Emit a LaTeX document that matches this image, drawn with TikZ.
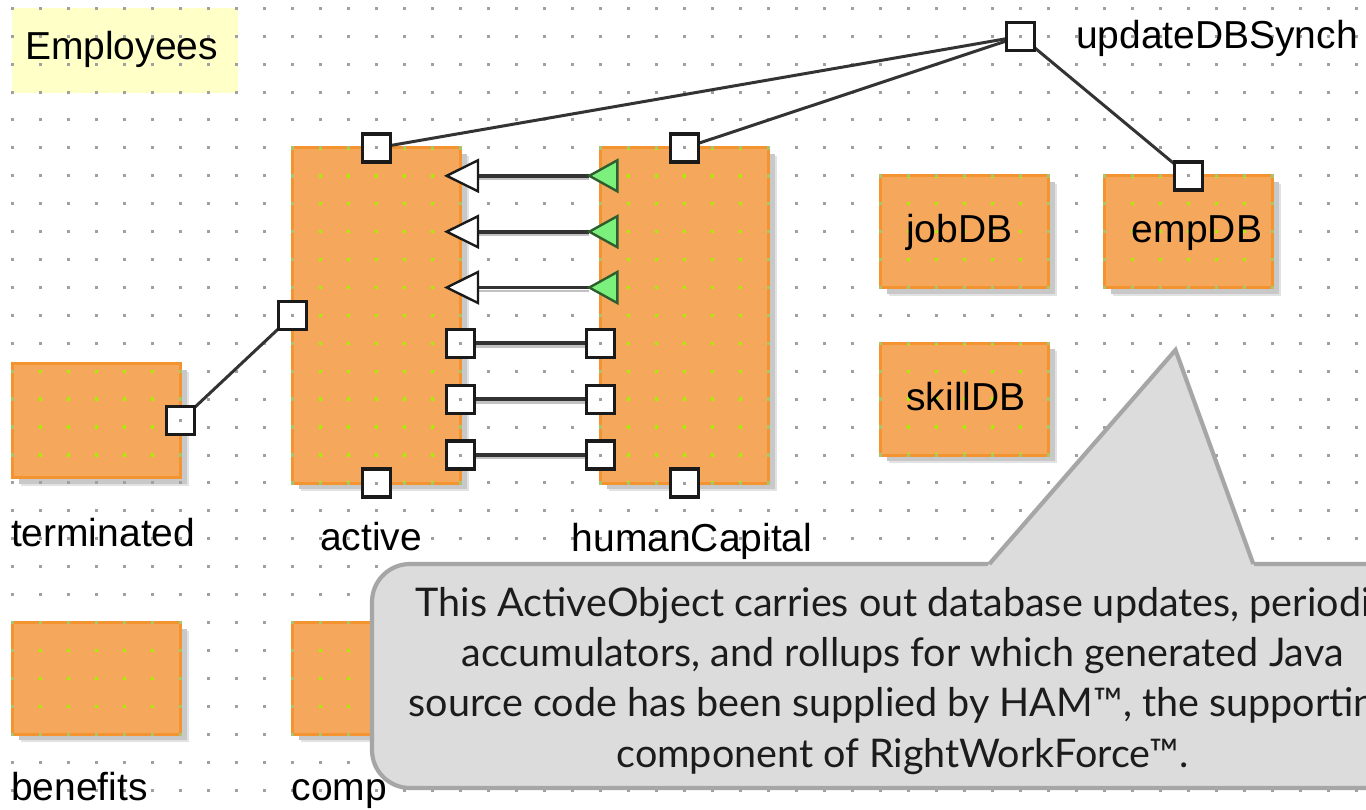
\documentclass[tikz,border=0pt]{standalone}
\usepackage{fontspec}
\setmainfont{Liberation Sans}
\newfontfamily\notefont{Lato}
\pgfdeclarelayer{back}
\pgfdeclarelayer{wires}
\pgfdeclarelayer{front}
\pgfsetlayers{back,wires,main,front}

\definecolor{boxfill}{HTML}{F5A85C}
\definecolor{boxline}{HTML}{F39431}
\definecolor{shadowA}{HTML}{C8C8C8}
\definecolor{shadowB}{HTML}{E2E2E2}
\definecolor{dotgray}{HTML}{A0A0A0}
\definecolor{dotlime}{HTML}{A4F000}
\definecolor{dotedge}{HTML}{A8C46C}
\definecolor{notefill}{HTML}{DCDCDC}
\definecolor{noteline}{HTML}{A6A6A6}
\definecolor{notetextcol}{HTML}{1C1C1C}
\definecolor{labelfill}{HTML}{FFFFC8}
\definecolor{wirecol}{HTML}{333333}
\definecolor{wireshadecol}{HTML}{C2C2C2}
\definecolor{outfill}{HTML}{7CF07C}
\definecolor{outedge}{HTML}{2E5E2E}
\definecolor{portline}{HTML}{1A1A1A}

\tikzset{
  objbox/.style={fill=boxfill, draw=boxline, line width=3, inner sep=0, outer sep=0},
  port/.style={draw=portline, fill=white, line width=3.4, minimum size=28, inner sep=0, outer sep=0,
    path picture={\fill[dotgray] ([shift={(-1.5,-1.5)}]path picture bounding box.center)
      rectangle ([shift={(1.5,1.5)}]path picture bounding box.center);}},
  wire/.style={draw=wirecol, line width=3},
  flatwire/.style={draw=wirecol, line width=3.8},
  wireshade/.style={draw=wireshadecol, line width=2.4},
  intri/.style={fill=white, draw=portline, line width=2.4, line join=miter},
  outtri/.style={fill=outfill, draw=outedge, line width=2.4, line join=miter},
  lbl/.style={font=\fontsize{39}{46}\selectfont, text=black, inner sep=0, outer sep=0},
  notetext/.style={font=\notefont\fontsize{39.5}{46}\selectfont, text=notetextcol, inner sep=0, anchor=base},
  notebody/.style={fill=notefill, draw=noteline, line width=4.2, rounded corners=38},
}

\begin{document}
\begin{tikzpicture}[x=1pt, y=-1pt]
\useasboundingbox (0,0) rectangle (1366,809);

\begin{pgfonlayer}{back}
  \fill[white] (0,0) rectangle (1366,809);
  % title tag of the diagram
  \fill[labelfill] (11.7,8.3) rectangle (238,93);
  % drop shadows of the embedded objects
  \foreach \nm/\xa/\ya/\xb/\yb/\ia/\ib/\ja/\jb in {
      terminated/12.7/363.5/180.7/477.5/0/6/12/17,
      active/292.7/147.9/460.7/483.0/10/16/5/17,
      humanCapital/600.7/147.9/768.7/483.0/21/27/5/17,
      jobDB/880.7/175.8/1048.7/287.5/31/37/6/10,
      empDB/1104.7/175.8/1272.7/287.5/39/45/6/10,
      skillDB/880.7/343.3/1048.7/455.0/31/37/12/16,
      benefits/12.7/622.5/180.7/734.2/0/6/22/26,
      comp/292.7/622.5/460.7/734.2/10/16/22/26}{
    \fill[shadowB] (\xa+8,\ya+8) rectangle (\xb+8,\yb+8);
    \fill[shadowA] (\xa+6,\ya+6) rectangle (\xb+6,\yb+6);
  }
  % editor grid
  \foreach \i in {0,...,48}
    \foreach \j in {0,...,28}
      \fill[dotgray] (12.7+28*\i-1.5, 8.3+27.92*\j-1.5) rectangle ++(3,3);
  % embedded objects
  \foreach \nm/\xa/\ya/\xb/\yb/\ia/\ib/\ja/\jb in {
      terminated/12.7/363.5/180.7/477.5/0/6/12/17,
      active/292.7/147.9/460.7/483.0/10/16/5/17,
      humanCapital/600.7/147.9/768.7/483.0/21/27/5/17,
      jobDB/880.7/175.8/1048.7/287.5/31/37/6/10,
      empDB/1104.7/175.8/1272.7/287.5/39/45/6/10,
      skillDB/880.7/343.3/1048.7/455.0/31/37/12/16,
      benefits/12.7/622.5/180.7/734.2/0/6/22/26,
      comp/292.7/622.5/460.7/734.2/10/16/22/26}{
    \node[objbox, anchor=north west, minimum width=\xb-\xa, minimum height=\yb-\ya] (\nm) at (\xa,\ya) {};
    \begin{scope}
      \clip (\xa-1.6,\ya-1.6) rectangle (\xb+1.6,\yb+1.6);
      \foreach \i in {\ia,...,\ib}
        \foreach \j in {\ja,...,\jb}
          \fill[dotedge] (12.7+28*\i-1.7, 8.3+27.92*\j-1.7) rectangle ++(3.4,3.4);
    \end{scope}
    \begin{scope}
      \clip (\xa+1.6,\ya+1.6) rectangle (\xb-1.6,\yb-1.6);
      \foreach \i in {\ia,...,\ib}
        \foreach \j in {\ja,...,\jb}
          \fill[dotlime] (12.7+28*\i-1.7, 8.3+27.92*\j-1.7) rectangle ++(3.4,3.4);
    \end{scope}
  }
\end{pgfonlayer}

% ports
\node[port] (aTop)  at (376.7,147.9) {};
\node[port] (aLeft) at (292.7,315.4) {};
\node[port] (aBot)  at (376.7,483.0) {};
\node[port] (aR1)   at (460.7,343.3) {};
\node[port] (aR2)   at (460.7,399.2) {};
\node[port] (aR3)   at (460.7,455.0) {};
\node[port] (hTop)  at (684.7,147.9) {};
\node[port] (hBot)  at (684.7,483.0) {};
\node[port] (hL1)   at (600.7,343.3) {};
\node[port] (hL2)   at (600.7,399.2) {};
\node[port] (hL3)   at (600.7,455.0) {};
\node[port] (tPort) at (180.7,420.5) {};
\node[port] (ePort) at (1188.7,175.8) {};
\node[port] (uPort) at (1020.7,36.2) {};

\begin{pgfonlayer}{wires}
  \draw[wire] (aTop.center) -- (uPort.center);
  \draw[wire] (hTop.center) -- (uPort.center);
  \draw[wire] (uPort.center) -- (ePort.center);
  \draw[wire] (aLeft.center) -- (tPort.center);
  \foreach \k in {1,2,3}{
    \draw[wireshade] ([yshift=-3.2pt]aR\k.center) -- ([yshift=-3.2pt]hL\k.center);
    \draw[flatwire] (aR\k.center) -- (hL\k.center);
  }
  % message ports: output of humanCapital to input of active
  \foreach \k/\y in {1/175.8,2/231.7,3/287.5}{
    \coordinate (inA\k) at (478,\y);
    \coordinate (outH\k) at (589.3,\y);
    \draw[wireshade] ([yshift=-3.2pt]outH\k) -- ([yshift=-3.2pt]inA\k);
    \draw[flatwire] (outH\k) -- (inA\k);
    \filldraw[intri] (446.7,\y) -- (478,\y-15.5) -- (478,\y+15.5) -- cycle;
    \filldraw[outtri] (589.3,\y) -- (617.3,\y-15.5) -- (617.3,\y+15.5) -- cycle;
  }
\end{pgfonlayer}

\begin{pgfonlayer}{front}
  \node[lbl, anchor=base west] (lblEmployees) at (25,59.3) {Employees};
  \node[lbl, anchor=base west] (lblUpdate) at (1076,48.3) {updateDBSynch};
  \node[lbl, anchor=base west] (lblTerminated) at (11,546.7) {terminated};
  \node[lbl, anchor=base west] (lblActive) at (320,550) {active};
  \node[lbl, anchor=base west] (lblHuman) at (571.7,551) {humanCapital};
  \node[lbl, anchor=base west] (lblBenefits) at (11,800.7) {benefits};
  \node[lbl, anchor=base west] (lblComp) at (291.7,800) {comp};
  \node[lbl, anchor=base] (lblJob) at (959.2,242.7) {jobDB};
  \node[lbl, anchor=base] (lblEmp) at (1197,242.7) {empDB};
  \node[lbl, anchor=base] (lblSkill) at (966,410.7) {skillDB};

  % comment balloon
  \path[notebody] (372,564) rectangle (1433,788);
  \fill[notefill] (986.7,567) -- (1175.5,350) -- (1254.4,567) -- cycle;
  \draw[draw=noteline, line width=4.2, line join=miter] (989.3,564) -- (1175.5,350) -- (1253.3,564);
  \node[notetext] (note1) at (902.5,616) {This ActiveObject carries out database updates, periodic};
  \node[notetext] (note2) at (902.5,666) {accumulators, and rollups for which generated Java};
  \node[notetext] (note3) at (902.5,716) {source code has been supplied by HAM™, the supporting};
  \node[notetext] (note4) at (902.5,767.5) {component of RightWorkForce™.};
\end{pgfonlayer}
\end{tikzpicture}
\end{document}
